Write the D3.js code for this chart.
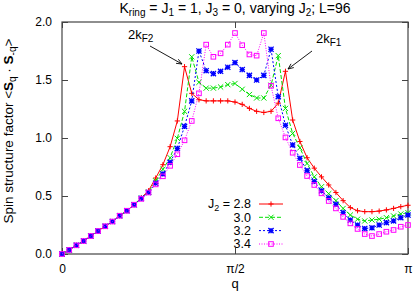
<!DOCTYPE html>
<html>
<head>
<meta charset="utf-8">
<script src="https://cdn.jsdelivr.net/npm/d3@7"></script>
<style>
    body { margin: 0; background: #fff; }
    svg text { font-family: "Liberation Sans", Arial, Helvetica, sans-serif; font-size: 12px; fill: #000; }
</style>
</head>
<body>
<div id="chart"></div>
<script>

// L = 96 ring, q = 2*pi*k/L for k = 0..48
var L = 96;
var kIndex = d3.range(0, L / 2 + 1);

var common = [0, 0.035, 0.075, 0.112, 0.155, 0.198, 0.239, 0.28, 0.33, 0.373, 0.425];

var sJ28 = common.concat([0.485, 0.545, 0.655, 0.77, 0.925, 1.147, 1.615, 1.385, 1.33, 1.32,
    1.32, 1.32, 1.32, 1.31, 1.29, 1.255, 1.23, 1.22, 1.23, 1.30,
    1.575, 1.155, 0.97, 0.83, 0.74, 0.665, 0.595, 0.53, 0.46, 0.40,
    0.373, 0.365, 0.365, 0.37, 0.38, 0.393, 0.408, 0.42]);

var sJ30 = common.concat([0.48, 0.535, 0.63, 0.73, 0.83, 0.997, 1.23, 1.70, 1.48, 1.43,
    1.43, 1.44, 1.46, 1.47, 1.42, 1.375, 1.345, 1.345, 1.455, 1.71,
    1.255, 1.04, 0.915, 0.78, 0.665, 0.58, 0.52, 0.46, 0.393, 0.336,
    0.30, 0.285, 0.293, 0.30, 0.313, 0.328, 0.345, 0.356]);

var sJ32 = common.concat([0.48, 0.53, 0.61, 0.69, 0.79, 0.91, 1.10, 1.32, 1.75, 1.58,
    1.555, 1.575, 1.61, 1.65, 1.59, 1.54, 1.50, 1.54, 1.765, 1.356,
    1.11, 0.94, 0.825, 0.72, 0.625, 0.545, 0.485, 0.428, 0.356, 0.293,
    0.25, 0.22, 0.226, 0.25, 0.27, 0.285, 0.313, 0.336]);

var sJ34 = common.concat([0.475, 0.53, 0.60, 0.67, 0.76, 0.86, 0.98, 1.147, 1.385, 1.805,
    1.70, 1.73, 1.805, 1.905, 1.80, 1.72, 1.71, 1.905, 1.45, 1.17,
    1.005, 0.873, 0.767, 0.672, 0.595, 0.523, 0.457, 0.393, 0.32, 0.264,
    0.216, 0.172, 0.155, 0.172, 0.192, 0.207, 0.235, 0.25]);

var legendLabels = ["2.8", "3.0", "3.2", "3.4"];
var yTicks = [0, 0.5, 1.0, 1.5, 2.0];
var xTicks = [0, Math.PI / 2, Math.PI];
var xTickLabels = ["0", "\u03c0/2", "\u03c0"];

var series = [
    { label: legendLabels[0], values: sJ28, color: "#ff0000", dash: null,  marker: "plus" },
    { label: legendLabels[1], values: sJ30, color: "#00e000", dash: "4,2", marker: "cross" },
    { label: legendLabels[2], values: sJ32, color: "#0000ff", dash: "2,2", marker: "star" },
    { label: legendLabels[3], values: sJ34, color: "#ff00ff", dash: "1,1.5", marker: "box" }
];

var width = 415, height = 294;
var plotL = 62, plotR = 408, plotT = 22, plotB = 254;

var svg = d3.select("#chart").append("svg")
        .attr("width", width)
        .attr("height", height);

var x = d3.scaleLinear().domain([0, Math.PI]).range([plotL, plotR]);
var y = d3.scaleLinear().domain([0, 2]).range([plotB, plotT]);

function qOf(k) { return 2 * Math.PI * k / L; }

// axes, gnuplot style: ticks pointing inwards
svg.append("g")
        .attr("transform", "translate(0," + plotB + ")")
        .call(d3.axisBottom(x).tickValues(xTicks).tickSize(-6).tickPadding(10)
            .tickFormat(function (d, i) { return xTickLabels[i]; }));
svg.append("g")
        .attr("transform", "translate(0," + plotT + ")")
        .call(d3.axisTop(x).tickValues(xTicks).tickSize(-6).tickFormat(""));
svg.append("g")
        .attr("transform", "translate(" + plotL + ",0)")
        .call(d3.axisLeft(y).tickValues(yTicks).tickSize(-6).tickPadding(10)
            .tickFormat(d3.format(".1f")));
svg.append("g")
        .attr("transform", "translate(" + plotR + ",0)")
        .call(d3.axisRight(y).tickValues(yTicks).tickSize(-6).tickFormat(""));

svg.selectAll(".domain").remove();
svg.selectAll(".tick line").attr("stroke", "#444");
svg.selectAll(".tick text").attr("font-size", 13)
        .attr("font-family", "Liberation Sans, Arial, sans-serif");

svg.append("rect")
        .attr("x", plotL).attr("y", plotT)
        .attr("width", plotR - plotL).attr("height", plotB - plotT)
        .attr("fill", "none")
        .attr("stroke", "#444")
        .attr("stroke-width", 1.2);

// markers
function drawMarker(sel, type, color) {
    var s = 2.6;
    if (type === "plus") {
        sel.append("path").attr("d", "M" + (-s) + ",0H" + s + "M0," + (-s) + "V" + s)
            .attr("stroke", color).attr("stroke-width", 1).attr("fill", "none");
    } else if (type === "cross") {
        sel.append("path").attr("d", "M" + (-s) + "," + (-s) + "L" + s + "," + s + "M" + (-s) + "," + s + "L" + s + "," + (-s))
            .attr("stroke", color).attr("stroke-width", 1).attr("fill", "none");
    } else if (type === "star") {
        sel.append("path").attr("d", "M" + (-s) + ",0H" + s + "M0," + (-s) + "V" + s +
                "M" + (-s) + "," + (-s) + "L" + s + "," + s + "M" + (-s) + "," + s + "L" + s + "," + (-s))
            .attr("stroke", color).attr("stroke-width", 1.3).attr("fill", "none");
    } else {
        sel.append("rect").attr("x", -2.3).attr("y", -2.3).attr("width", 4.6).attr("height", 4.6)
            .attr("stroke", color).attr("stroke-width", 1).attr("fill", "none");
    }
}

var line = d3.line()
        .x(function (d, i) { return x(qOf(kIndex[i])); })
        .y(function (d) { return y(d); });

series.forEach(function (s) {
    var g = svg.append("g");
    g.append("path")
            .attr("d", line(s.values))
            .attr("fill", "none")
            .attr("stroke", s.color)
            .attr("stroke-width", 1)
            .attr("stroke-dasharray", s.dash);
    g.selectAll("g.pt")
            .data(s.values)
            .enter().append("g")
            .attr("class", "pt")
            .attr("transform", function (d, i) { return "translate(" + x(qOf(kIndex[i])) + "," + y(d) + ")"; })
            .each(function () { drawMarker(d3.select(this), s.marker, s.color); });
});

// legend
var legY = [204, 217.3, 230.6, 244];
series.forEach(function (s, i) {
    var t = svg.append("text")
            .attr("x", 251).attr("y", legY[i]).attr("dy", "0.35em")
            .attr("text-anchor", "end")
            .style("font-size", "12.5px");
    if (i === 0) {
        t.append("tspan").text("J");
        t.append("tspan").attr("dy", 3).style("font-size", "9px").text("2");
        t.append("tspan").attr("dy", -3).text(" = " + s.label);
    } else {
        t.text(s.label);
    }
    svg.append("line")
            .attr("x1", 259).attr("x2", 283)
            .attr("y1", legY[i]).attr("y2", legY[i])
            .attr("stroke", s.color)
            .attr("stroke-dasharray", s.dash);
    var m = svg.append("g").attr("transform", "translate(271," + legY[i] + ")");
    drawMarker(m, s.marker, s.color);
});

// title
var title = svg.append("text").attr("x", 235).attr("y", 13).attr("text-anchor", "middle")
        .style("font-size", "14px");
title.append("tspan").text("K");
title.append("tspan").attr("dy", 3).style("font-size", "10px").text("ring");
title.append("tspan").attr("dy", -3).text(" = J");
title.append("tspan").attr("dy", 3).style("font-size", "10px").text("1");
title.append("tspan").attr("dy", -3).text(" = 1, J");
title.append("tspan").attr("dy", 3).style("font-size", "10px").text("3");
title.append("tspan").attr("dy", -3).text(" = 0, varying J");
title.append("tspan").attr("dy", 3).style("font-size", "10px").text("2");
title.append("tspan").attr("dy", -3).text("; L=96");

// axis labels
svg.append("text").attr("x", 235).attr("y", 288).attr("text-anchor", "middle")
        .style("font-size", "13px").text("q");

var yl = svg.append("text")
        .attr("transform", "translate(13,131) rotate(-90)")
        .attr("text-anchor", "middle")
        .style("font-size", "13.5px");
yl.append("tspan").text("Spin structure factor  <");
yl.append("tspan").attr("font-weight", "bold").text("S");
yl.append("tspan").attr("dy", 3).style("font-size", "10px").text("q");
yl.append("tspan").attr("dy", -3).text(" \u00b7 ");
yl.append("tspan").attr("font-weight", "bold").text("S");
yl.append("tspan").attr("dy", 3).style("font-size", "10px").text("-q");
yl.append("tspan").attr("dy", -3).text(">");

// 2k_F annotations with arrows
function arrow(x1, y1, x2, y2) {
    var a = Math.atan2(y2 - y1, x2 - x1), h = 6, w = 0.4;
    svg.append("path")
            .attr("d", "M" + x1 + "," + y1 + "L" + x2 + "," + y2 +
                "M" + (x2 - h * Math.cos(a - w)) + "," + (y2 - h * Math.sin(a - w)) + "L" + x2 + "," + y2 +
                "L" + (x2 - h * Math.cos(a + w)) + "," + (y2 - h * Math.sin(a + w)))
            .attr("fill", "none")
            .attr("stroke", "#000")
            .attr("stroke-width", 0.9);
}

function kfLabel(tx, ty, sub) {
    var t = svg.append("text").attr("x", tx).attr("y", ty).style("font-size", "13px");
    t.append("tspan").text("2k");
    t.append("tspan").attr("dy", 3).style("font-size", "10px").text(sub);
}

kfLabel(128, 39, "F2");
arrow(150, 46, 182, 64);
kfLabel(316, 43, "F1");
arrow(312, 51, 288, 69);

</script>
</body>
</html>
